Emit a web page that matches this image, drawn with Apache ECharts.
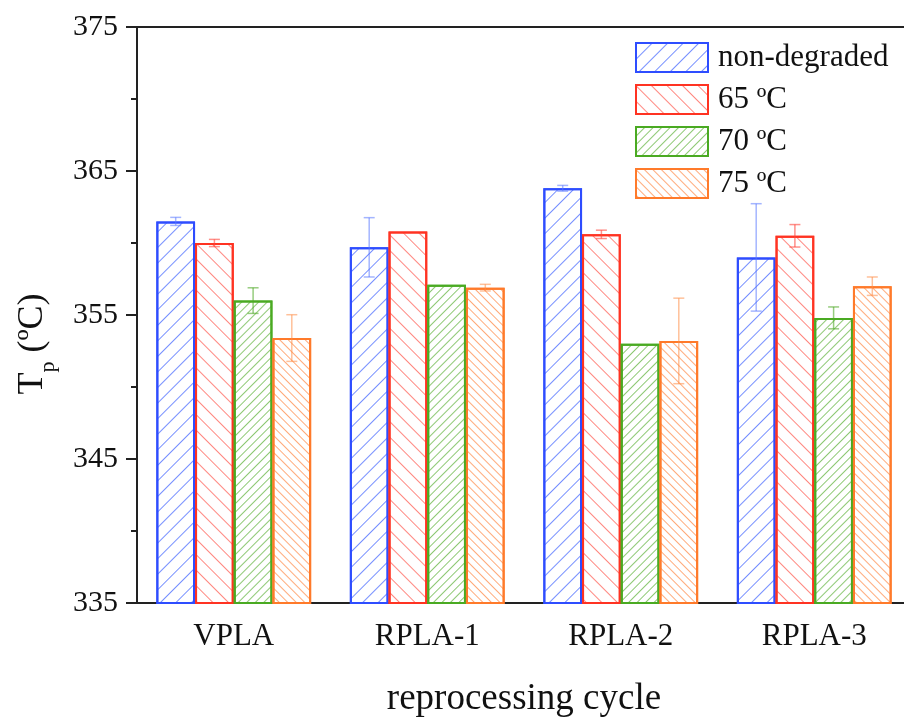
<!DOCTYPE html>
<html>
<head>
<meta charset="utf-8">
<script src="https://cdn.jsdelivr.net/npm/echarts@6/dist/echarts.min.js"></script>
<style>
  html, body { margin: 0; padding: 0; background: #fff; }
  #chart { width: 904px; height: 718px; }
</style>
</head>
<body>
<div id="chart"></div>
<script>
/* Tp vs reprocessing cycle */
var categories = ['VPLA', 'RPLA-1', 'RPLA-2', 'RPLA-3'];
var seriesNames = ['non-degraded', '65 ºC', '70 ºC', '75 ºC'];

var nonDegraded = [361.5, 359.7, 363.8, 359.0];
var deg65 = [360.0, 360.8, 360.6, 360.5];
var deg70 = [356.0, 357.1, 353.0, 354.8];
var deg75 = [353.4, 356.9, 353.2, 357.0];

var errNonDegraded = [0.28, 2.06, 0.2, 3.73];
var err65 = [0.25, 0, 0.29, 0.78];
var err70 = [0.89, 0, 0, 0.76];
var err75 = [1.62, 0.23, 2.97, 0.64];

var yTicks = [335, 345, 355, 365, 375];

var serif = '"Liberation Serif", "Times New Roman", serif';

// diagonal hatch as an echarts decal
function hatch(lineColor, gap, rot) {
  return {
    symbol: 'rect',
    symbolSize: 1,
    dashArrayX: [1, 0],
    dashArrayY: [1, gap],
    rotation: rot,
    color: lineColor
  };
}

var styles = [
  { border: '#2e4dff', decal: hatch('rgba(60,95,255,0.7)', 10, -Math.PI / 4), err: 'rgba(90,120,255,0.55)' },
  { border: '#ff3322', decal: hatch('rgba(255,70,60,0.65)', 10, Math.PI / 4), err: 'rgba(255,70,60,0.6)' },
  { border: '#4aaa22', decal: hatch('rgba(80,170,40,0.65)', 5, -Math.PI / 4), err: 'rgba(80,170,40,0.6)' },
  { border: '#ff7a2a', decal: hatch('rgba(255,125,50,0.65)', 5, Math.PI / 4), err: 'rgba(255,140,70,0.55)' }
];

var values = [nonDegraded, deg65, deg70, deg75];
var errors = [errNonDegraded, err65, err70, err75];

var series = [];
values.forEach(function (vals, i) {
  series.push({
    name: seriesNames[i],
    type: 'bar',
    data: vals,
    barWidth: '20%',
    barGap: '0%',
    itemStyle: {
      color: '#fff',
      borderColor: styles[i].border,
      borderWidth: 2,
      decal: styles[i].decal
    },
    emphasis: { disabled: true }
  });
});

values.forEach(function (vals, i) {
  var errData = vals.map(function (v, j) {
    return [j, v - errors[i][j], v + errors[i][j]];
  });
  series.push({
    type: 'custom',
    name: 'err' + i,
    data: errData.filter(function (d) { return d[2] - d[1] > 0; }),
    z: 5,
    renderItem: function (params, api) {
      var cat = api.value(0);
      var lo = api.coord([cat, api.value(1)]);
      var hi = api.coord([cat, api.value(2)]);
      var bw = api.size([1, 0])[0] * 0.2;
      var x = lo[0] + (i - 1.5) * bw;
      var cap = 5.5;
      var st = { stroke: styles[i].err, lineWidth: 1.5 };
      return {
        type: 'group',
        children: [
          { type: 'line', shape: { x1: x, y1: lo[1], x2: x, y2: hi[1] }, style: st },
          { type: 'line', shape: { x1: x - cap, y1: lo[1], x2: x + cap, y2: lo[1] }, style: st },
          { type: 'line', shape: { x1: x - cap, y1: hi[1], x2: x + cap, y2: hi[1] }, style: st }
        ]
      };
    }
  });
});

var option = {
  animation: false,
  backgroundColor: '#fff',
  grid: {
    left: 137, top: 27, width: 774, height: 576,
    outerBoundsMode: 'none',
    containLabel: false,
    show: true, borderColor: '#222', borderWidth: 2
  },
  legend: {
    data: seriesNames,
    orient: 'vertical',
    left: 635, top: 42,
    padding: 0,
    itemWidth: 72, itemHeight: 29, itemGap: 11,
    icon: 'rect',
    textStyle: { fontSize: 31, fontFamily: serif, color: '#111', padding: [0, 0, 0, 5] }
  },
  xAxis: {
    type: 'category',
    data: categories,
    name: 'reprocessing cycle',
    nameLocation: 'middle',
    nameGap: 78,
    nameTextStyle: { fontSize: 37, fontFamily: serif, color: '#111' },
    axisLine: { lineStyle: { color: '#222', width: 2 } },
    axisTick: { alignWithLabel: true, length: 11, lineStyle: { color: '#222', width: 2 } },
    axisLabel: { fontSize: 31, fontFamily: serif, color: '#111', margin: 18 }
  },
  yAxis: {
    type: 'value',
    min: yTicks[0], max: yTicks[yTicks.length - 1], interval: 10,
    name: 'T{p|p} (ºC)',
    nameLocation: 'middle',
    nameRotate: 90,
    nameGap: 78,
    nameTextStyle: {
      fontSize: 36, fontFamily: serif, color: '#111',
      padding: [0, 58, 0, 0],
      rich: { p: { fontSize: 22, fontFamily: serif, color: '#111', padding: [30, 0, 0, 0] } }
    },
    axisLine: { show: true, lineStyle: { color: '#222', width: 2 } },
    axisTick: { show: true, length: 11, lineStyle: { color: '#222', width: 2 } },
    minorTick: { show: true, splitNumber: 2, length: 6, lineStyle: { color: '#222', width: 2 } },
    splitLine: { show: false },
    axisLabel: { fontSize: 30, fontFamily: serif, color: '#111', margin: 19 }
  },
  series: series
};

var chart = echarts.init(document.getElementById('chart'));
chart.setOption(option);
</script>
</body>
</html>
